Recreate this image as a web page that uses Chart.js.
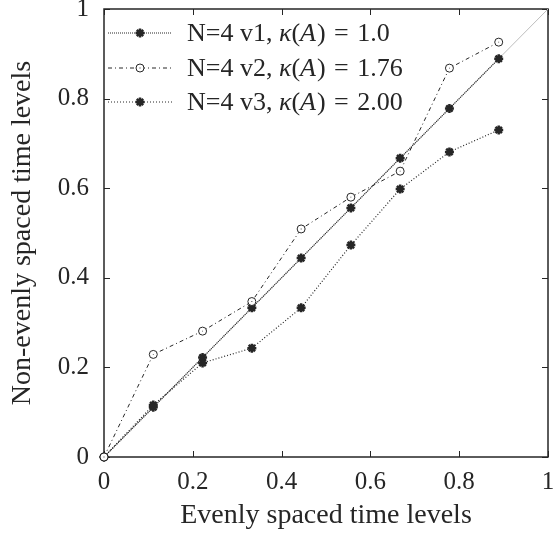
<!DOCTYPE html>
<html>
<head>
<meta charset="utf-8">
<script src="https://cdn.jsdelivr.net/npm/chart.js@4.4.1/dist/chart.umd.min.js"></script>
<style>
  html, body { margin: 0; padding: 0; background: #fff; }
  #wrap { width: 555px; height: 535px; }
</style>
</head>
<body>
<div id="wrap"><canvas id="levelsChart"></canvas></div>
<script>
// time levels on the x axis (k/9)
const evenLevels = [0, 0.111, 0.222, 0.333, 0.444, 0.556, 0.667, 0.778, 0.889];
const v1Levels = [0, 0.111, 0.222, 0.333, 0.444, 0.556, 0.667, 0.778, 0.889];
const v2Levels = [0, 0.229, 0.281, 0.347, 0.509, 0.580, 0.638, 0.868, 0.926];
const v3Levels = [0, 0.116, 0.210, 0.243, 0.333, 0.473, 0.598, 0.681, 0.730];
const diagonal = [0, 1];
const tickValues = [0, 0.2, 0.4, 0.6, 0.8, 1];
const legendNames = ['N=4 v1, ', 'N=4 v2, ', 'N=4 v3, '];
const legendKappa = ['1.0', '1.76', '2.00'];

const FONT = "'Liberation Serif', 'DejaVu Serif', serif";
const INK = '#262626';

function pairs(xs, ys) {
    return xs.map((x, i) => ({ x: x, y: ys[i] }));
}

// frame with inward ticks on all four sides
const framePlugin = {
    id: 'frame',
    beforeDatasetsDraw(chart) {
        const { ctx, chartArea: a, scales } = chart;
        ctx.save();
        ctx.strokeStyle = INK;
        ctx.lineWidth = 1;
        const len = 6;
        tickValues.forEach(v => {
            const x = Math.round(scales.x.getPixelForValue(v)) + 0.5;
            const y = Math.round(scales.y.getPixelForValue(v)) + 0.5;
            ctx.beginPath();
            ctx.moveTo(x, a.bottom); ctx.lineTo(x, a.bottom - len);
            ctx.moveTo(x, a.top); ctx.lineTo(x, a.top + len);
            ctx.moveTo(a.left, y); ctx.lineTo(a.left + len, y);
            ctx.moveTo(a.right, y); ctx.lineTo(a.right - len, y);
            ctx.stroke();
        });
        ctx.lineWidth = 1.5;
        ctx.strokeRect(a.left, a.top, a.right - a.left, a.bottom - a.top);
        ctx.restore();
    }
};

// legend with math italics, drawn inside the plot
const legendPlugin = {
    id: 'mathLegend',
    afterDraw(chart) {
        const ctx = chart.ctx;
        const rows = [33, 68, 102];
        const styles = [
            { dash: [1, 1], marker: 'star' },
            { dash: [4, 3, 1, 3], marker: 'circle' },
            { dash: [1, 2], marker: 'star' }
        ];
        ctx.save();
        rows.forEach((y, i) => {
            ctx.strokeStyle = INK;
            ctx.lineWidth = 1;
            ctx.setLineDash(styles[i].dash);
            ctx.beginPath();
            ctx.moveTo(108, y); ctx.lineTo(172, y);
            ctx.stroke();
            ctx.setLineDash([]);
            if (styles[i].marker === 'circle') {
                ctx.fillStyle = '#fff';
                ctx.beginPath(); ctx.arc(140, y, 4, 0, Math.PI * 2); ctx.fill();
                ctx.stroke();
                ctx.fillStyle = INK;
                ctx.fillRect(139.5, y - 0.5, 1, 1);
            } else {
                ctx.lineWidth = 2.5;
                Chart.helpers.drawPoint(ctx, { pointStyle: 'star', radius: 4.5, borderWidth: 2.5 }, 140, y);
            }
            const parts = [
                [legendNames[i], 'normal', 0],
                ['\u03BA', 'italic', 0],
                ['(', 'normal', 0],
                ['A', 'italic', 1],
                [')', 'normal', 0],
                [' ', 'normal', 2],
                ['=', 'normal', 0],
                [' ', 'normal', 2],
                [legendKappa[i], 'normal', 0]
            ];
            let x = 187;
            ctx.fillStyle = INK;
            ctx.textBaseline = 'middle';
            parts.forEach(([t, st, extra]) => {
                ctx.font = st + ' 26px ' + FONT;
                ctx.fillText(t, x, y + 1);
                x += ctx.measureText(t).width + extra;
            });
        });
        ctx.restore();
    }
};

const ctx = document.getElementById('levelsChart').getContext('2d');
new Chart(ctx, {
    type: 'scatter',
    data: {
        datasets: [
            {
                label: 'y=x',
                data: pairs(diagonal, diagonal),
                showLine: true,
                borderColor: '#bdbdbd',
                borderWidth: 1,
                pointRadius: 0,
                order: 5
            },
            {
                label: 'N=4 v1',
                data: pairs(evenLevels, v1Levels),
                showLine: true,
                borderColor: INK,
                borderWidth: 1.2,
                borderDash: [1, 1],
                pointStyle: 'star',
                pointRadius: 4.5,
                pointBorderWidth: 2.5,
                pointBorderColor: INK,
                clip: false,
                order: 3
            },
            {
                label: 'N=4 v2',
                data: pairs(evenLevels, v2Levels),
                showLine: true,
                borderColor: INK,
                borderWidth: 1,
                borderDash: [4, 3, 1, 3],
                pointStyle: 'circle',
                pointRadius: 4,
                pointBorderWidth: 1,
                pointBorderColor: INK,
                pointBackgroundColor: '#fff',
                clip: false,
                order: 2
            },
            {
                label: 'v2 centres',
                data: pairs(evenLevels, v2Levels),
                showLine: false,
                pointStyle: 'rect',
                pointRadius: 0.6,
                pointBorderWidth: 0,
                pointBackgroundColor: INK,
                clip: false,
                order: 1
            },
            {
                label: 'N=4 v3',
                data: pairs(evenLevels, v3Levels),
                showLine: true,
                borderColor: INK,
                borderWidth: 1.2,
                borderDash: [1, 2],
                pointStyle: 'star',
                pointRadius: 4.5,
                pointBorderWidth: 2.5,
                pointBorderColor: INK,
                clip: false,
                order: 4
            }
        ]
    },
    options: {
        responsive: true,
        maintainAspectRatio: false,
        animation: false,
        layout: { padding: { top: 9, right: 5, left: 0, bottom: 0 } },
        scales: {
            x: {
                type: 'linear',
                min: 0,
                max: 1,
                afterBuildTicks: s => { s.ticks = tickValues.map(v => ({ value: v })); },
                afterFit: s => { s.height = 78; s.paddingLeft = 0; s.paddingRight = 0; },
                grid: { display: false, drawTicks: false },
                border: { display: false },
                ticks: {
                    color: INK,
                    padding: 10,
                    maxRotation: 0,
                    font: { family: FONT, size: 25 },
                    callback: v => String(v)
                },
                title: {
                    display: true,
                    text: 'Evenly spaced time levels',
                    color: INK,
                    padding: { top: 0, bottom: 3 },
                    font: { family: FONT, size: 28 }
                }
            },
            y: {
                type: 'linear',
                min: 0,
                max: 1,
                afterBuildTicks: s => { s.ticks = tickValues.map(v => ({ value: v })); },
                afterFit: s => { s.width = 104; s.paddingTop = 0; s.paddingBottom = 0; },
                grid: { display: false, drawTicks: false },
                border: { display: false },
                ticks: {
                    color: INK,
                    padding: 15,
                    font: { family: FONT, size: 25 },
                    callback: v => String(v)
                },
                title: {
                    display: true,
                    text: 'Non-evenly spaced time levels',
                    color: INK,
                    padding: { top: 6, bottom: 0 },
                    font: { family: FONT, size: 28 }
                }
            }
        },
        plugins: {
            legend: { display: false },
            tooltip: { enabled: false }
        }
    },
    plugins: [framePlugin, legendPlugin]
});
</script>
</body>
</html>
